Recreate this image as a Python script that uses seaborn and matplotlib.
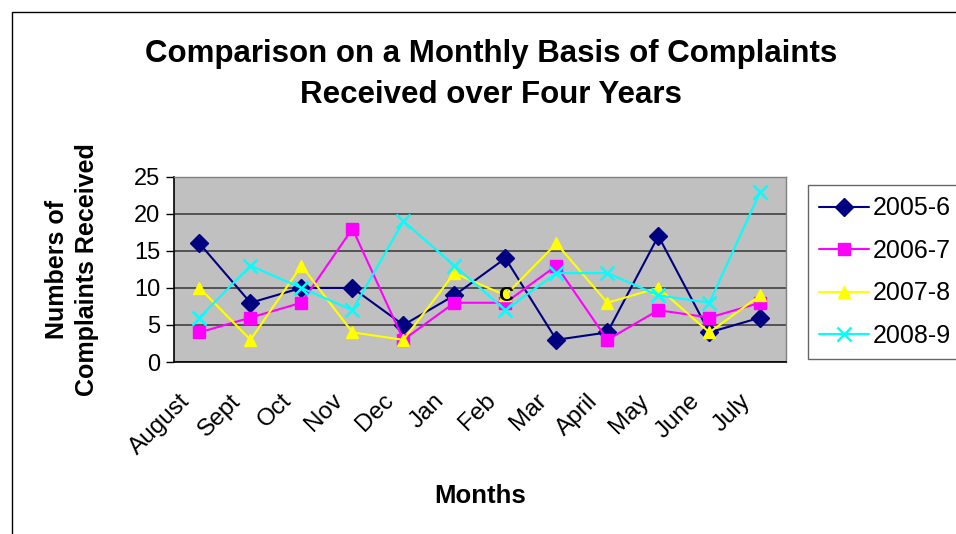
import numpy as np
import pandas as pd
import matplotlib
matplotlib.use("Agg")
import matplotlib.pyplot as plt
import matplotlib.transforms as mtrans
from matplotlib.patches import Rectangle
import seaborn as sns

# ── Data ─────────────────────────────────────────────────────────────────────
months = ["August", "Sept", "Oct", "Nov", "Dec", "Jan",
          "Feb", "Mar", "April", "May", "June", "July"]
y2005_6 = [16, 8, 10, 10, 5, 9, 14, 3, 4, 17, 4, 6]
y2006_7 = [4, 6, 8, 18, 3, 8, 8, 13, 3, 7, 6, 8]
y2007_8 = [10, 3, 13, 4, 3, 12, 9, 16, 8, 10, 4, 9]
y2008_9 = [6, 13, 10, 7, 19, 13, 7, 12, 12, 9, 8, 23]
series = ["2005-6", "2006-7", "2007-8", "2008-9"]

PALETTE = {"2005-6": "#000080", "2006-7": "#FF00FF",
           "2007-8": "#FFFF00", "2008-9": "#00FFFF"}
MARKERS = {"2005-6": "D", "2006-7": "s", "2007-8": "^", "2008-9": "x"}

df = pd.DataFrame({
    "month": months * 4,
    "pos": list(range(len(months))) * 4,
    "value": y2005_6 + y2006_7 + y2007_8 + y2008_9,
    "year": np.repeat(series, len(months)),
})

sns.set_style("white")
plt.rcParams["font.family"] = ["Liberation Sans", "DejaVu Sans"]
plt.rcParams["text.color"] = "black"
plt.rcParams["axes.labelcolor"] = "black"
plt.rcParams["xtick.color"] = "black"
plt.rcParams["ytick.color"] = "black"

fig = plt.figure(figsize=(9.56, 5.34), dpi=100)
ax = fig.add_axes([0.182, 0.322, 0.640, 0.347])
ax.set_facecolor("#C0C0C0")

for yr in series:
    sub = df[df["year"] == yr]
    sns.lineplot(data=sub, x="pos", y="value", ax=ax, color=PALETTE[yr],
                 marker=MARKERS[yr], markersize=9 if yr != "2008-9" else 10,
                 markeredgecolor=PALETTE[yr],
                 markeredgewidth=1.0 if yr != "2008-9" else 1.8,
                 linewidth=1.5, label=yr, zorder=3)

# stray data label visible in the original
ax.text(6, 9, "C", ha="center", va="center", fontsize=15, fontweight="bold",
        color="black", zorder=4)

ax.set_xlim(-0.5, len(months) - 0.5)
ax.set_ylim(0, 25)
ax.set_yticks(range(0, 26, 5))
ax.yaxis.grid(True, color="#404040", linewidth=1.2)
ax.set_axisbelow(True)

ax.set_xticks(np.arange(len(months)))
ax.set_xticklabels(months, rotation=45, ha="right", rotation_mode="anchor",
                   fontsize=17.5)
ax.tick_params(axis="x", length=0, pad=20)
shift = mtrans.ScaledTranslation(-0.21, 0, fig.dpi_scale_trans)
for lab in ax.get_xticklabels():
    lab.set_transform(lab.get_transform() + shift)
ax.set_xticks(np.arange(-0.5, len(months)), minor=True)
ax.tick_params(axis="x", which="minor", length=7, width=1, color="black",
               direction="out")
ax.tick_params(axis="y", labelsize=17, length=6, width=1, direction="out",
               left=True, color="black", pad=4)

for side in ["left", "bottom"]:
    ax.spines[side].set_color("black")
    ax.spines[side].set_linewidth(1.2)
for side in ["top", "right"]:
    ax.spines[side].set_color("#808080")
    ax.spines[side].set_linewidth(1.0)

ax.set_xlabel("Months", fontsize=18.5, fontweight="bold", labelpad=18)
ax.set_ylabel("Numbers of\nComplaints Received", fontsize=18,
              fontweight="bold", labelpad=25, linespacing=1.3)

fig.suptitle("Comparison on a Monthly Basis of Complaints\nReceived over Four Years",
             x=0.514, y=0.927, fontsize=22.5, fontweight="bold",
             linespacing=1.5)

leg = ax.legend(loc="upper left", bbox_to_anchor=(808 / 956, (534 - 185) / 534),
                bbox_transform=fig.transFigure, fontsize=18, frameon=True,
                fancybox=False, edgecolor="#404040", borderpad=0.45,
                labelspacing=0.74, handlelength=2.0, handletextpad=0.15,
                borderaxespad=0)
leg.get_frame().set_linewidth(1.0)

# outer chart border
fig.patches.append(Rectangle((12 / 956, -0.1), 1.2, (534 - 12) / 534 + 0.1,
                             transform=fig.transFigure, fill=False,
                             edgecolor="black", linewidth=1.0))

fig.savefig("out.png", dpi=100)
